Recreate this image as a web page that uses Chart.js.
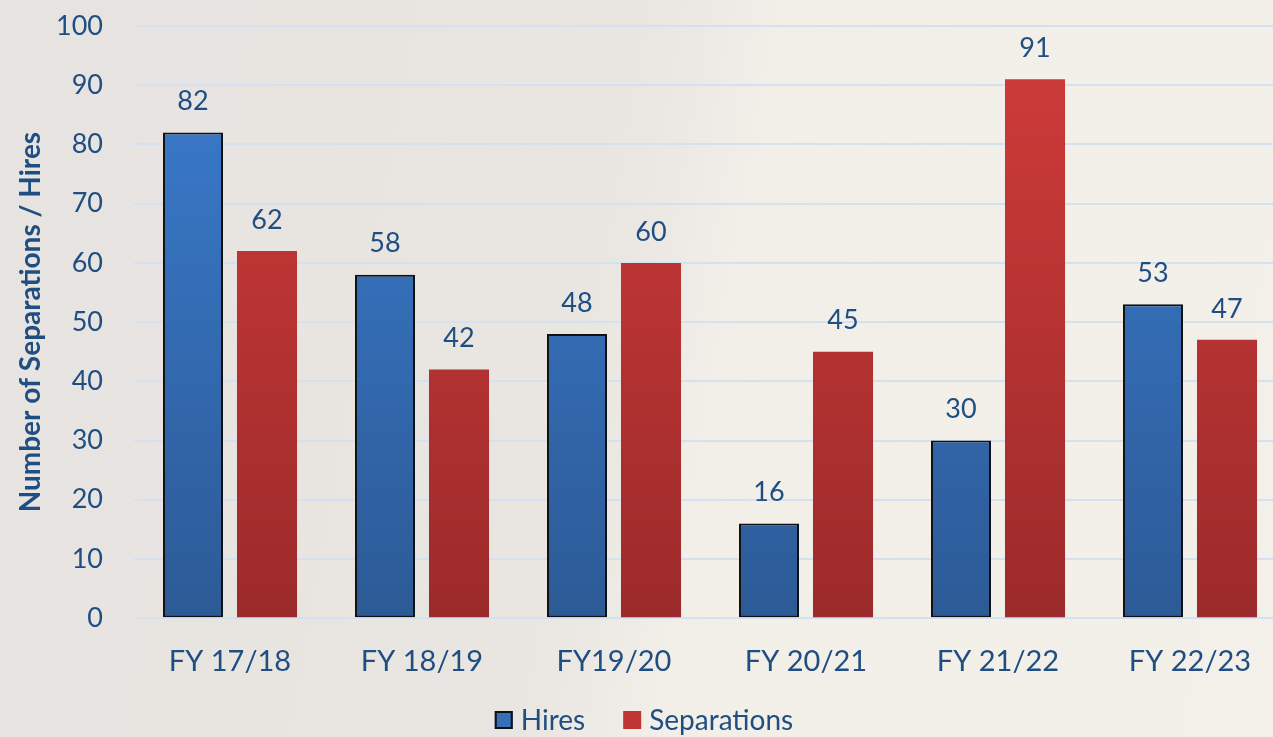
<!DOCTYPE html>
<html>
<head>
<meta charset="utf-8">
<script src="https://cdn.jsdelivr.net/npm/chart.js@4"></script>
<style>
  html, body { margin: 0; padding: 0; overflow: hidden; }
  body {
    width: 1273px; height: 737px;
    background: linear-gradient(100deg, #e7e3e0 0%, #e9e5e1 45%, #ece8e3 50%, #f2eee8 56%, #f3efe9 100%);
  }
  #wrap { width: 1290px; height: 737px; }
</style>
</head>
<body>
<div id="wrap"><canvas id="staffChart"></canvas></div>
<script>
const years = ["FY 17/18", "FY 18/19", "FY19/20", "FY 20/21", "FY 21/22", "FY 22/23"];
const hires = [82, 58, 48, 16, 30, 53];
const separations = [62, 42, 60, 45, 91, 47];
const yTicks = [0, 10, 20, 30, 40, 50, 60, 70, 80, 90, 100];

const textBlue = "#1f4e82";
const fontFamily = "Lato, 'Open Sans', sans-serif";

function barGradient(ctx, top, bottom) {
  const chart = ctx.chart;
  const area = chart.chartArea;
  if (!area) return top;
  const g = chart.ctx.createLinearGradient(0, area.top, 0, area.bottom);
  g.addColorStop(0, top);
  g.addColorStop(1, bottom);
  return g;
}

// draw the value above each bar
const valueLabels = {
  id: "valueLabels",
  afterDatasetsDraw(chart) {
    const ctx = chart.ctx;
    ctx.save();
    ctx.font = "27px " + fontFamily;
    ctx.fillStyle = textBlue;
    ctx.textAlign = "center";
    ctx.textBaseline = "middle";
    chart.data.datasets.forEach((ds, i) => {
      chart.getDatasetMeta(i).data.forEach((bar, j) => {
        ctx.fillText(ds.data[j], bar.x, bar.y - 31);
      });
    });
    ctx.restore();
  }
};

// simple legend at the bottom, wider gap between items than the built-in one
const bottomLegend = {
  id: "bottomLegend",
  afterDraw(chart) {
    const ctx = chart.ctx;
    const items = [
      { text: chart.data.datasets[0].label, fill: "#3570b8", stroke: "#111111" },
      { text: chart.data.datasets[1].label, fill: "#c03634", stroke: null }
    ];
    const box = 18, gap = 8, between = 38, y = 720;
    ctx.save();
    ctx.font = "28px " + fontFamily;
    ctx.textBaseline = "middle";
    ctx.textAlign = "left";
    let total = 0;
    items.forEach((it, i) => {
      it.w = ctx.measureText(it.text).width;
      total += box + gap + it.w + (i ? between : 0);
    });
    let x = 644 - total / 2;
    items.forEach((it, i) => {
      if (i) x += between;
      ctx.fillStyle = it.fill;
      ctx.fillRect(x, y - box / 2, box, box);
      if (it.stroke) {
        ctx.strokeStyle = it.stroke;
        ctx.lineWidth = 2;
        ctx.strokeRect(x + 1, y - box / 2 + 1, box - 2, box - 2);
      }
      x += box + gap;
      ctx.fillStyle = textBlue;
      ctx.fillText(it.text, x, y + 1);
      x += it.w;
    });
    ctx.restore();
  }
};

const ctx = document.getElementById("staffChart").getContext("2d");

new Chart(ctx, {
  type: "bar",
  data: {
    labels: years,
    datasets: [
      {
        label: "Hires",
        data: hires,
        backgroundColor: c => barGradient(c, "#3b7dd0", "#2c5a96"),
        borderColor: "#111111",
        borderWidth: 2,
        borderSkipped: false,
        barPercentage: 0.811,
        categoryPercentage: 0.771
      },
      {
        label: "Separations",
        data: separations,
        backgroundColor: c => barGradient(c, "#d03c3a", "#9c2a2a"),
        borderWidth: 0,
        barPercentage: 0.811,
        categoryPercentage: 0.771
      }
    ]
  },
  options: {
    responsive: true,
    maintainAspectRatio: false,
    animation: false,
    layout: { padding: { top: 26, right: 4, bottom: 40 } },
    plugins: {
      tooltip: { enabled: false },
      legend: { display: false }
    },
    scales: {
      x: {
        grid: { display: false },
        border: { display: false },
        ticks: {
          color: textBlue,
          font: { family: fontFamily, size: 29 },
          padding: 18
        }
      },
      y: {
        min: 0,
        max: 100,
        afterBuildTicks: scale => { scale.ticks = yTicks.map(v => ({ value: v })); },
        afterFit: scale => {
          scale.width = 134;
          scale.paddingTop = 0;
          scale.paddingBottom = 0;
        },
        grid: { color: "#d3e1f0", lineWidth: 2, drawTicks: false },
        border: { display: false },
        ticks: {
          color: textBlue,
          font: { family: fontFamily, size: 27 },
          padding: 31
        },
        title: {
          display: true,
          text: "Number of Separations / Hires",
          color: textBlue,
          font: { family: fontFamily, size: 28, weight: "bold" },
          padding: { top: 14, bottom: 0 }
        }
      }
    }
  },
  plugins: [valueLabels, bottomLegend]
});
</script>
</body>
</html>
